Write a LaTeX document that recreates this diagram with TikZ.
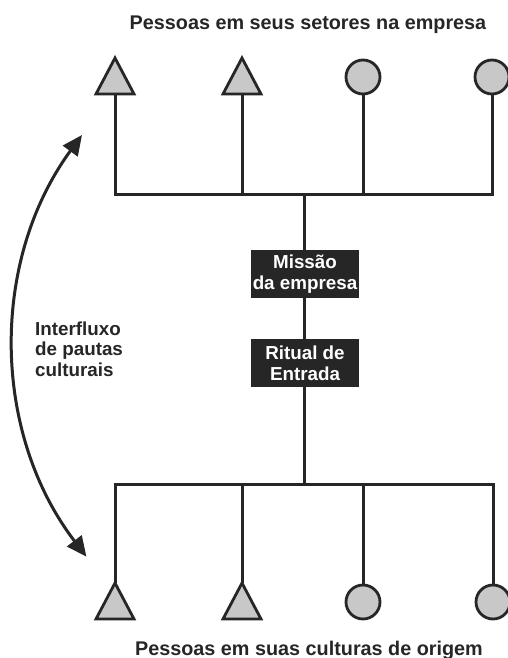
\documentclass[tikz,border=0pt]{standalone}
\usepackage{fontspec}
\setmainfont{Liberation Sans}
\usetikzlibrary{arrows.meta}
\definecolor{ink}{HTML}{262626}
\definecolor{shade}{HTML}{C8C8C8}
\begin{document}
\begin{tikzpicture}[x=1pt,y=-1pt,
  wire/.style={draw=ink, line width=3pt, line join=miter},
  person/.style={draw=ink, fill=shade, line width=2.8pt, line join=miter},
  roundp/.style={circle, person, minimum size=34pt, inner sep=0pt},
  caption/.style={font=\bfseries\fontsize{18.8}{20.5}\selectfont, text=ink, inner sep=0pt},
  heading/.style={font=\bfseries\fontsize{19.8}{22}\selectfont, text=ink, inner sep=0pt},
  stage/.style={fill=ink, text=white, minimum width=108pt, minimum height=48pt, inner sep=0pt,
    align=center, font=\bfseries\fontsize{18.8}{21}\selectfont},
  flow/.style={draw=ink, line width=3pt, {Triangle[length=20pt,width=18pt]}-{Triangle[length=20pt,width=18pt]}}
]
\useasboundingbox[fill=white] (0,0) rectangle (507,658);

% titles
\node[heading, anchor=base] (toptitle) at (308,30) {Pessoas em seus setores na empresa};
\node[heading, anchor=base] (bottitle) at (309,655) {Pessoas em suas culturas de origem};
\node[caption, anchor=base west, align=left] (flowtext) at (35,376) {Interfluxo\\de pautas\\culturais};

% top people
\draw[person] (96,94) -- (115,58) -- (134,94) -- cycle;
\coordinate (tt1) at (115,94);
\draw[person] (223,94) -- (242,58) -- (261,94) -- cycle;
\coordinate (tt2) at (242,94);
\node[roundp] (tc3) at (363,77) {};
\node[roundp] (tc4) at (492,77) {};
\coordinate (topbar) at (304,194);

% bottom people
\draw[person] (96,619) -- (115,583) -- (134,619) -- cycle;
\coordinate (bt1) at (115,583);
\draw[person] (223,619) -- (242,583) -- (261,619) -- cycle;
\coordinate (bt2) at (242,583);
\node[roundp] (bc3) at (363,602) {};
\node[roundp] (bc4) at (493,602) {};
\coordinate (botbar) at (304,484);

% boxes
\node[stage] (mission) at (305,274) {Missão\\da empresa};
\node[stage] (ritual) at (305,363) {Ritual de\\Entrada};

% connectors top
\draw[wire] (tt1) -- (tt1 |- topbar) -- (tc4.south |- topbar) -- (tc4.south);
\draw[wire] (tt2) -- (tt2 |- topbar);
\draw[wire] (tc3.south) -- (tc3.south |- topbar);
\draw[wire] (topbar) -- (mission.north -| topbar);
\draw[wire] (mission.south -| topbar) -- (ritual.north -| topbar);
\draw[wire] (ritual.south -| topbar) -- (botbar);

% connectors bottom
\draw[wire] (bt1) -- (bt1 |- botbar) -- (bc4.north |- botbar) -- (bc4.north);
\draw[wire] (bt2) -- (bt2 |- botbar);
\draw[wire] (bc3.north) -- (bc3.north |- botbar);

% interflow arrow
\coordinate (arrtop) at (82,135);
\draw[flow] (arrtop) arc[start angle=216.2, end angle=142.6, radius=352] coordinate (arrbot);
\end{tikzpicture}
\end{document}
